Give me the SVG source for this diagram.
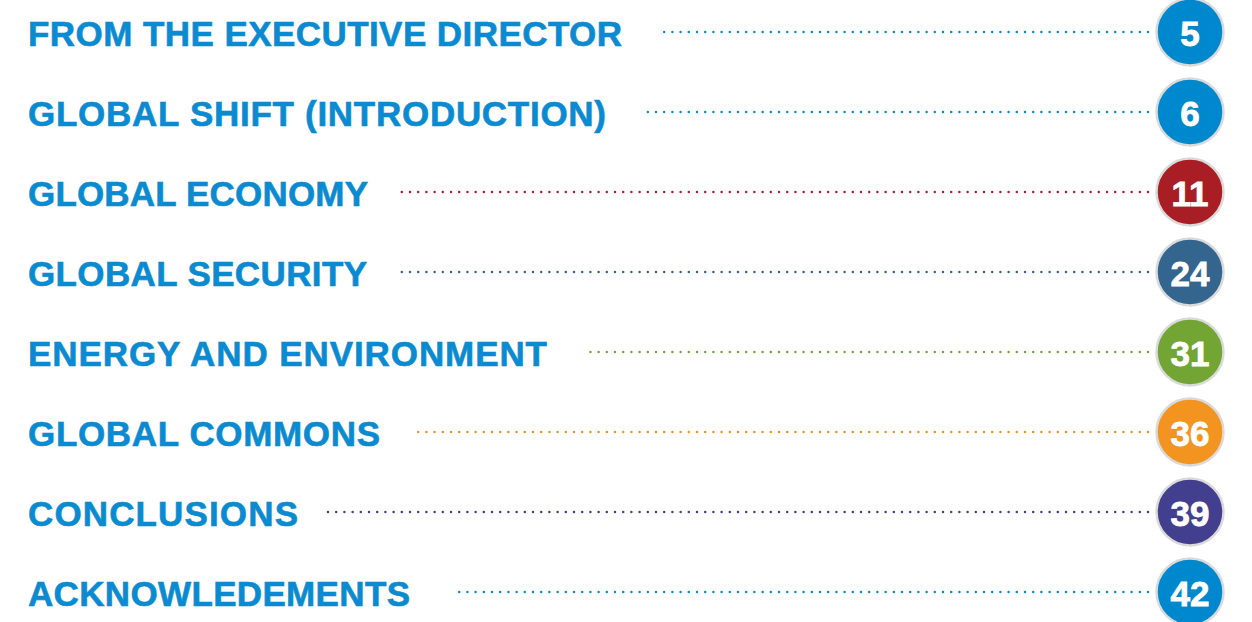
<svg xmlns="http://www.w3.org/2000/svg" width="1252" height="622" viewBox="0 0 1252 622">
<style>
.lbl{font-family:"Liberation Sans",Arial,sans-serif;font-weight:bold;font-size:35px;fill:#0a8ad0;stroke:#0a8ad0;stroke-width:0.6}
.num{font-family:"Liberation Sans",Arial,sans-serif;font-weight:bold;font-size:35px;fill:#fff;stroke:#fff;stroke-width:0.8;text-anchor:middle}
.dot{fill:none;stroke-width:2.5;stroke-linecap:round;stroke-dasharray:0 8.2}
.badge{stroke:#dadada;stroke-width:2.5}
</style>
<rect width="1252" height="622" fill="#fff"/>
<g id="connectors">
<line class="dot" x1="1148" y1="32" x2="660" y2="32" stroke="#0a8ad0"/>
<line class="dot" x1="1148" y1="112" x2="645" y2="112" stroke="#0a8ad0"/>
<line class="dot" x1="1148" y1="192" x2="400" y2="192" stroke="#b0202a"/>
<line class="dot" x1="1148" y1="272" x2="394" y2="272" stroke="#336590"/>
<line class="dot" x1="1148" y1="352" x2="590" y2="352" stroke="#74a835"/>
<line class="dot" x1="1148" y1="432" x2="412" y2="432" stroke="#f39322"/>
<line class="dot" x1="1148" y1="512" x2="326" y2="512" stroke="#433f8f"/>
<line class="dot" x1="1148" y1="592" x2="455" y2="592" stroke="#0a8ad0"/>
</g>
<g id="row1"><text class="lbl" x="28" y="46" textLength="594" lengthAdjust="spacing">FROM THE EXECUTIVE DIRECTOR</text><circle class="badge" cx="1190" cy="32" r="33.5" fill="#0088cf"/><text class="num" x="1190" y="45.5">5</text></g>
<g id="row2"><text class="lbl" x="28" y="126" textLength="578" lengthAdjust="spacing">GLOBAL SHIFT (INTRODUCTION)</text><circle class="badge" cx="1190" cy="112" r="33.5" fill="#0088cf"/><text class="num" x="1190" y="125.5">6</text></g>
<g id="row3"><text class="lbl" x="28" y="206" textLength="340" lengthAdjust="spacing">GLOBAL ECONOMY</text><circle class="badge" cx="1190" cy="192" r="33.5" fill="#a91e24"/><text class="num" x="1190" y="205.5">11</text></g>
<g id="row4"><text class="lbl" x="28" y="286" textLength="339" lengthAdjust="spacing">GLOBAL SECURITY</text><circle class="badge" cx="1190" cy="272" r="33.5" fill="#33658f"/><text class="num" x="1190" y="285.5">24</text></g>
<g id="row5"><text class="lbl" x="28" y="366" textLength="519" lengthAdjust="spacing">ENERGY AND ENVIRONMENT</text><circle class="badge" cx="1190" cy="352" r="33.5" fill="#73a534"/><text class="num" x="1190" y="365.5">31</text></g>
<g id="row6"><text class="lbl" x="28" y="446" textLength="352" lengthAdjust="spacing">GLOBAL COMMONS</text><circle class="badge" cx="1190" cy="432" r="33.5" fill="#f39320"/><text class="num" x="1190" y="445.5">36</text></g>
<g id="row7"><text class="lbl" x="28" y="526" textLength="270" lengthAdjust="spacing">CONCLUSIONS</text><circle class="badge" cx="1190" cy="512" r="33.5" fill="#433f8f"/><text class="num" x="1190" y="525.5">39</text></g>
<g id="row8"><text class="lbl" x="28" y="606" textLength="382" lengthAdjust="spacing">ACKNOWLEDEMENTS</text><circle class="badge" cx="1190" cy="592" r="33.5" fill="#0088cf"/><text class="num" x="1190" y="605.5">42</text></g>
</svg>
